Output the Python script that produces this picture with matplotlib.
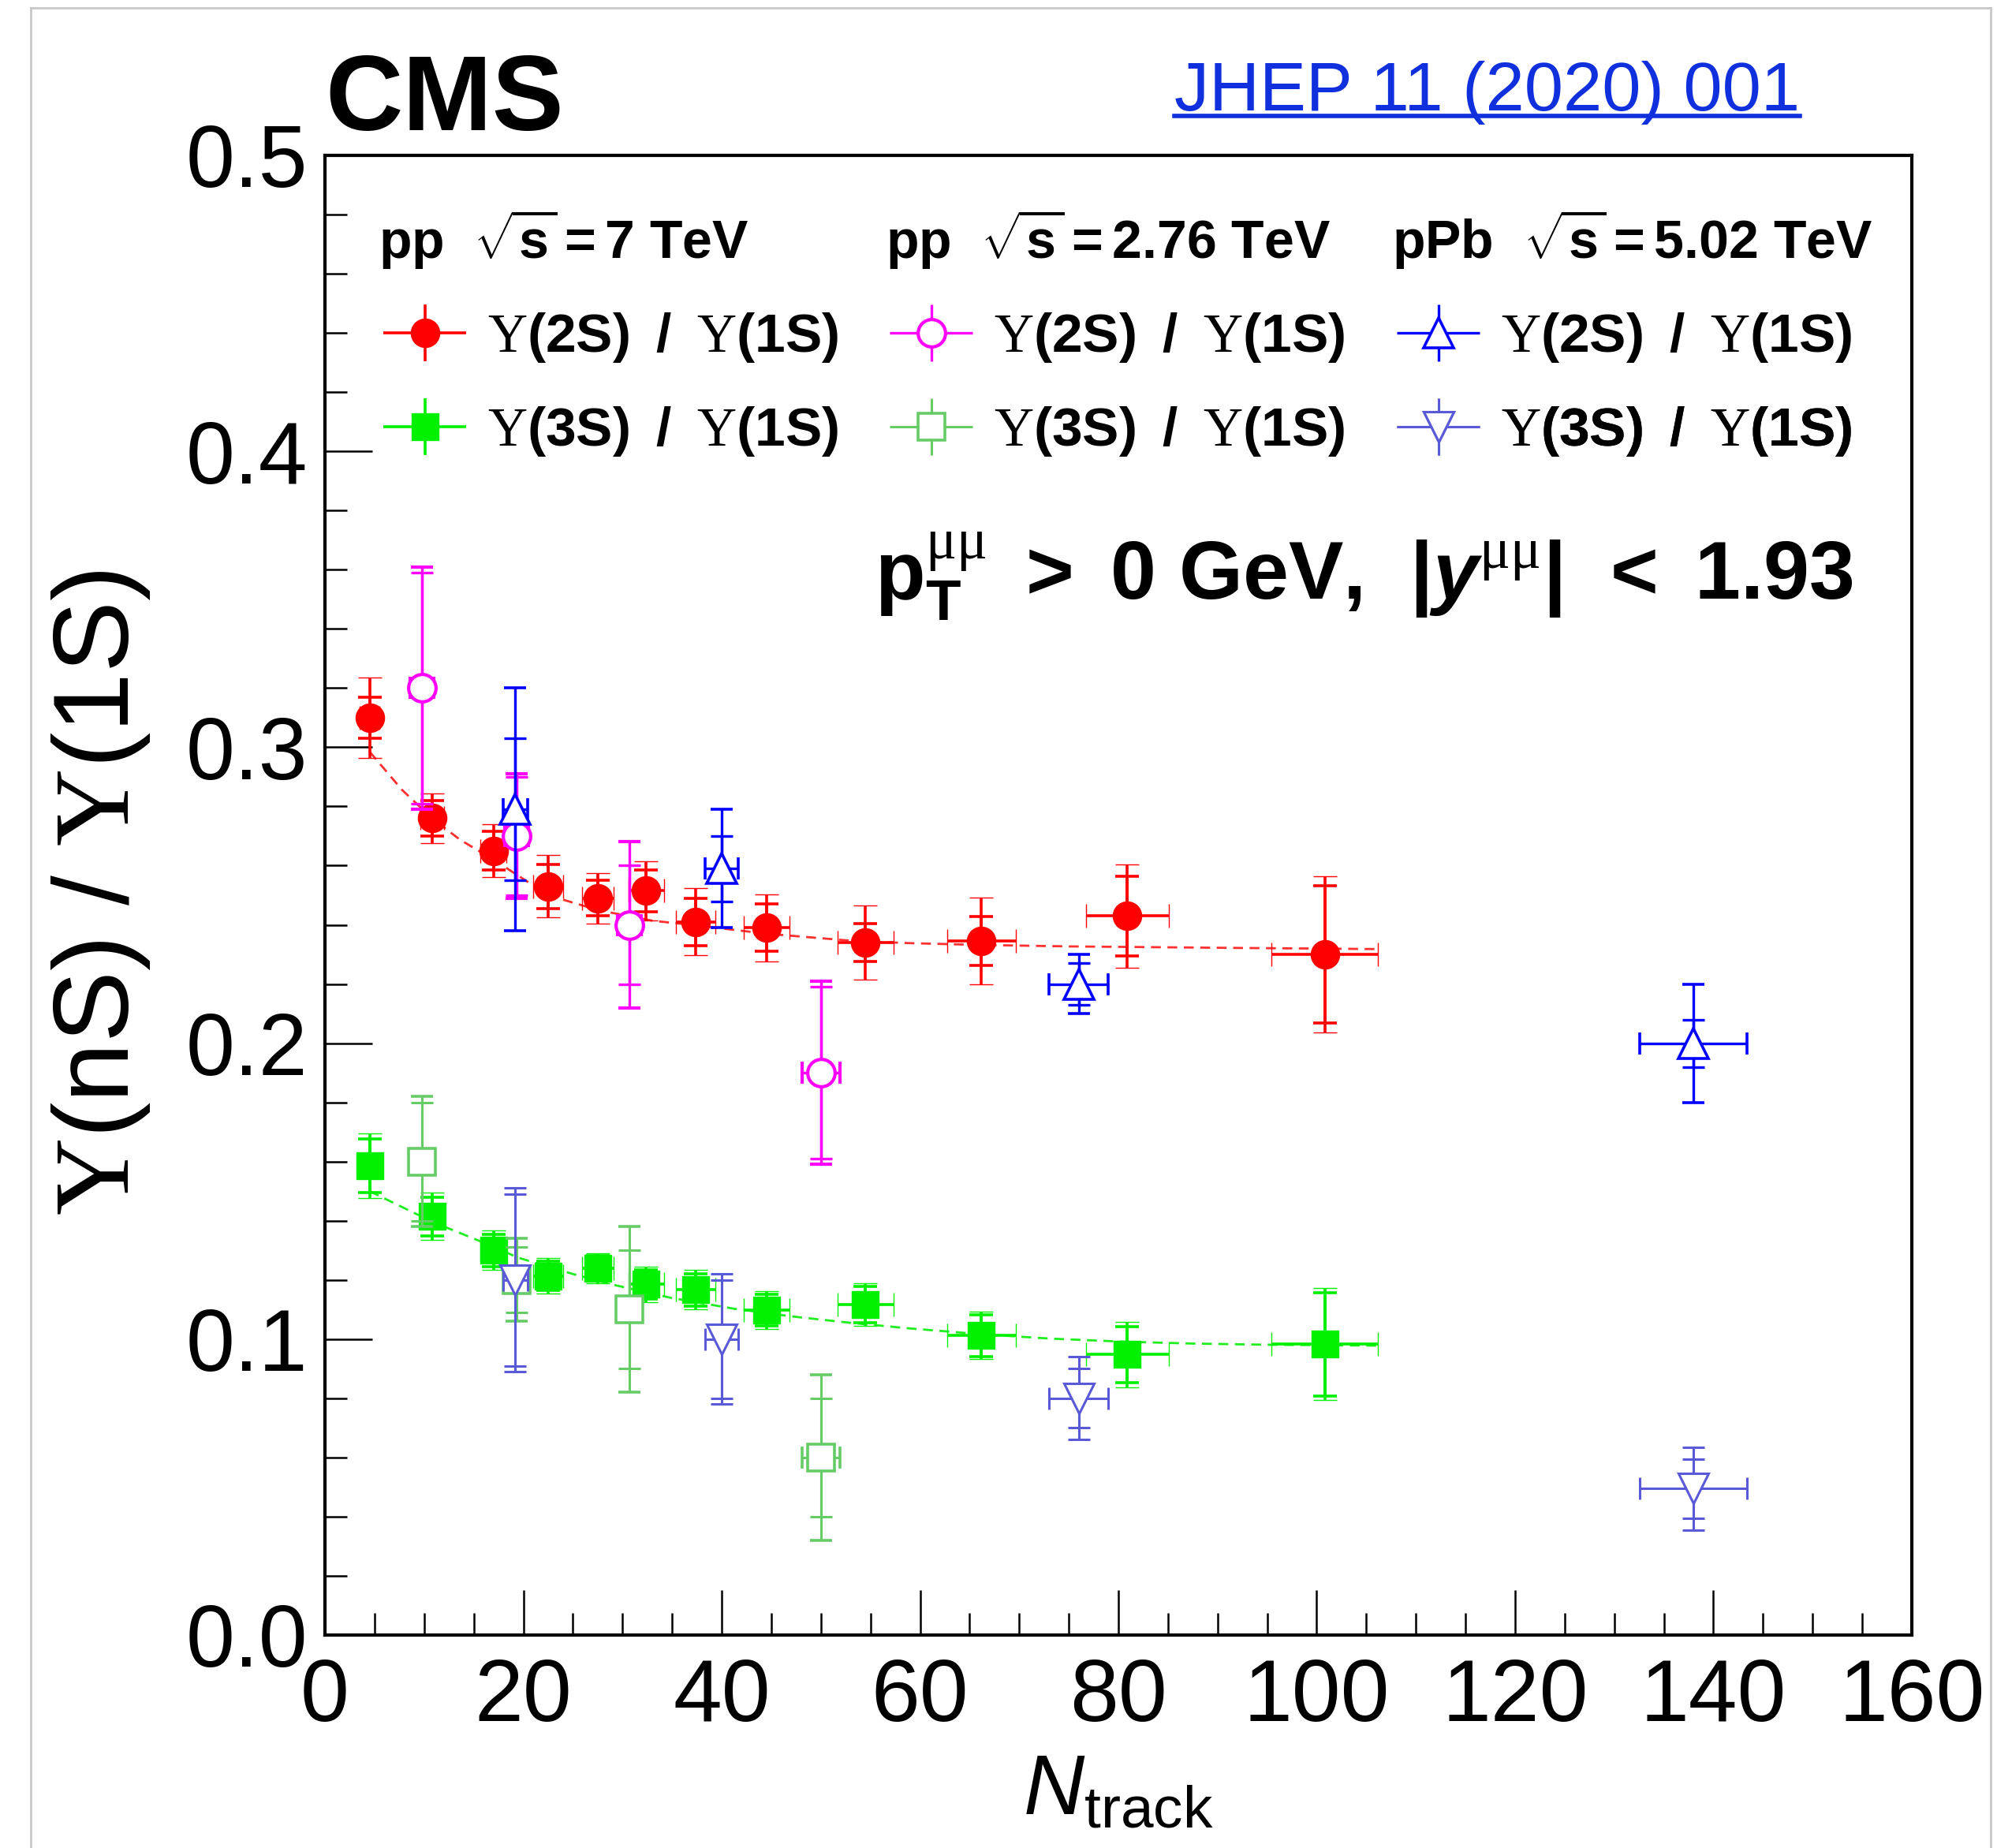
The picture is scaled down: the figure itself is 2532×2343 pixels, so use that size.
import matplotlib
matplotlib.use('Agg')
import matplotlib.pyplot as plt
from matplotlib.lines import Line2D
from matplotlib.legend_handler import HandlerErrorbar
from matplotlib.container import ErrorbarContainer

plt.rcParams['font.family'] = ['Liberation Sans', 'DejaVu Sans']
plt.rcParams['mathtext.fontset'] = 'custom'
plt.rcParams['mathtext.rm'] = 'Liberation Serif'
plt.rcParams['mathtext.it'] = 'Liberation Sans:italic'
plt.rcParams['mathtext.bf'] = 'Liberation Sans:bold'
plt.rcParams['mathtext.sf'] = 'Liberation Sans'
plt.rcParams['mathtext.bfit'] = 'Liberation Sans:italic:bold'

# ---------------- data ----------------
# pp 7 TeV, Y(2S)/Y(1S)
pp7_x = [4.5, 10.8, 17.0, 22.5, 27.5, 32.4, 37.4, 44.5, 54.5, 66.2, 80.9, 100.8]
pp7_xerr = [1.0, 1.2, 1.3, 1.5, 1.6, 1.8, 2.0, 2.3, 2.8, 3.45, 4.2, 5.4]
pp7_2S = [0.310, 0.276, 0.265, 0.253, 0.249, 0.2515, 0.241, 0.239, 0.234, 0.2345, 0.243, 0.230]
pp7_2S_tot = [0.0135, 0.0085, 0.009, 0.0105, 0.0085, 0.010, 0.0113, 0.0113, 0.0126, 0.0147, 0.0174, 0.0263]
pp7_2S_stat = [0.007, 0.006, 0.0065, 0.0075, 0.006, 0.007, 0.008, 0.008, 0.0064, 0.0083, 0.0135, 0.0233]
# pp 7 TeV, Y(3S)/Y(1S)
pp7_3S = [0.1586, 0.1414, 0.130, 0.1214, 0.124, 0.1185, 0.1167, 0.1098, 0.1117, 0.1012, 0.0948, 0.0983]
pp7_3S_tot = [0.011, 0.008, 0.0067, 0.006, 0.005, 0.006, 0.0066, 0.0064, 0.0072, 0.008, 0.011, 0.019]
pp7_3S_stat = [0.009, 0.0065, 0.0055, 0.005, 0.0042, 0.005, 0.0055, 0.0054, 0.0062, 0.007, 0.0095, 0.0175]

# pp 2.76 TeV
pp276_x = [9.8, 19.3, 30.7, 50.0]
pp276_xerr = [1.2, 1.2, 1.2, 1.9]
pp276_2S = [0.320, 0.270, 0.240, 0.190]
pp276_2S_tot = [0.041, 0.021, 0.028, 0.031]
pp276_2S_stat = [0.039, 0.020, 0.020, 0.029]
pp276_3S = [0.160, 0.120, 0.110, 0.060]
pp276_3S_tot = [0.022, 0.014, 0.028, 0.028]
pp276_3S_stat = [0.020, 0.011, 0.020, 0.020]

# pPb 5.02 TeV
pPb_x = [19.2, 40.0, 76.0, 138.0]
pPb_xerr = [1.2, 1.7, 3.0, 5.4]
pPb_2S = [0.279, 0.259, 0.220, 0.200]
pPb_2S_tot = [0.041, 0.020, 0.010, 0.020]
pPb_2S_stat = [0.024, 0.011, 0.007, 0.008]
pPb_3S = [0.120, 0.100, 0.080, 0.0495]
pPb_3S_tot = [0.031, 0.022, 0.014, 0.014]
pPb_3S_stat = [0.029, 0.020, 0.010, 0.010]

# dashed fit curves
fit2S_x = [4.5, 7.8, 10.8, 13.6, 17.0, 20.0, 22.5, 27.5, 33.0, 37.4, 44.5, 53.5, 59.0, 66.0, 75.0, 91.5, 106.0]
fit2S_y = [0.2985, 0.2855, 0.2760, 0.2688, 0.2620, 0.2555, 0.2500, 0.2450, 0.2414, 0.2398, 0.2370, 0.2345,
           0.2338, 0.2332, 0.2327, 0.2322, 0.2318]
fit3S_x = [4.5, 9.2, 12.4, 16.3, 19.5, 25.0, 28.9, 34.8, 41.2, 47.0, 53.0, 59.0, 66.0, 73.0, 80.0, 87.4, 95.0, 106.0]
fit3S_y = [0.1500, 0.1423, 0.1375, 0.1322, 0.1275, 0.1220, 0.1185, 0.1140, 0.1103, 0.1077, 0.1055, 0.1036,
           0.1017, 0.1002, 0.0992, 0.0985, 0.0981, 0.0978]

x_ticks = [0, 20, 40, 60, 80, 100, 120, 140, 160]
y_ticks = [0.0, 0.1, 0.2, 0.3, 0.4, 0.5]
y_ticklabels = ['0.0', '0.1', '0.2', '0.3', '0.4', '0.5']

headers = [r'$\mathbf{pp}\ \ \sqrt{\mathbf{s}}\mathbf{=7\ TeV}$',
           r'$\mathbf{pp}\ \ \sqrt{\mathbf{s}}\mathbf{=2.76\ TeV}$',
           r'$\mathbf{pPb}\ \ \sqrt{\mathbf{s}}\mathbf{=5.02\ TeV}$']
lab2S = r'$\Upsilon\mathbf{(2S)\ \:/\ \:}\Upsilon\mathbf{(1S)}$'
lab3S = r'$\Upsilon\mathbf{(3S)\ \:/\ \:}\Upsilon\mathbf{(1S)}$'

# ---------------- figure ----------------
W, H, DPI = 2532, 2343, 100
fig = plt.figure(figsize=(W / DPI, H / DPI), dpi=DPI)


def fx(px):
    return px / W


def fy(py):
    return 1 - py / H


ax = fig.add_axes([fx(412), fy(2073), fx(2424) - fx(412), fy(197) - fy(2073)])
ax.set_xlim(0, 160)
ax.set_ylim(0, 0.5)

# fits
ax.plot(fit2S_x, fit2S_y, color='#ff3030', lw=2.0, dashes=(4.5, 3), zorder=1)
ax.plot(fit3S_x, fit3S_y, color='#20ee20', lw=2.0, dashes=(4.5, 3), zorder=1)


def series(x, y, ytot, ystat, xerr, color, marker, ms, mfc, mew, elw, cs, z):
    c = ax.errorbar(x, y, yerr=ytot, xerr=xerr, fmt=marker, color=color, ms=ms, mfc=mfc, mec=color,
                    mew=mew, ecolor=color, elinewidth=elw, capsize=cs, capthick=elw, zorder=z)
    ax.errorbar(x, y, yerr=ystat, fmt='none', ecolor=color, elinewidth=elw, capsize=cs,
                capthick=elw, zorder=z)
    return c


RED, MAG, BLUE = '#ff0000', '#ff00ff', '#0000ff'
GREEN, LGREEN, PURP = '#00f000', '#66cc66', '#5a5ad8'

h1 = series(pp7_x, pp7_2S, pp7_2S_tot, pp7_2S_stat, pp7_xerr, RED, 'o', 26, RED, 1, 2.6, 11, 3)
h2 = series(pp7_x, pp7_3S, pp7_3S_tot, pp7_3S_stat, pp7_xerr, GREEN, 's', 25, GREEN, 1, 2.6, 11, 3.2)
h3 = series(pp276_x, pp276_2S, pp276_2S_tot, pp276_2S_stat, pp276_xerr, MAG, 'o', 25, 'white', 3, 2.4, 10, 3.4)
h4 = series(pp276_x, pp276_3S, pp276_3S_tot, pp276_3S_stat, pp276_xerr, LGREEN, 's', 25, 'white', 2.6, 2.2, 10, 3.6)
h5 = series(pPb_x, pPb_2S, pPb_2S_tot, pPb_2S_stat, pPb_xerr, BLUE, '^', 27, 'white', 2.6, 2.4, 10, 3.8)
h6 = series(pPb_x, pPb_3S, pPb_3S_tot, pPb_3S_stat, pPb_xerr, PURP, 'v', 27, 'white', 2.2, 2.2, 10, 4.0)

# axes styling
for s in ax.spines.values():
    s.set_linewidth(3.0)
ax.set_xticks(x_ticks)
ax.set_xticks(range(0, 161, 5), minor=True)
ax.set_yticks(y_ticks)
ax.set_yticklabels(y_ticklabels)
ax.set_yticks([i * 0.02 for i in range(26)], minor=True)
ax.tick_params(which='both', direction='in', top=False, right=False, labelsize=80, width=1.8)
ax.tick_params(axis='x', which='major', length=41, pad=20)
ax.tick_params(axis='x', which='minor', length=20)
ax.tick_params(axis='y', which='major', length=43, pad=16)
ax.tick_params(axis='y', which='minor', length=20)

# axis titles
fig.text(fx(1418), fy(2300), r'$\mathit{N}_{\mathsf{track}}$', fontsize=77, ha='center', va='baseline')
fig.text(fx(163), fy(1132), r'$\Upsilon\mathsf{(nS)\ /\ }\Upsilon\mathsf{(1S)}$', fontsize=98,
         rotation=90, rotation_mode='anchor', ha='center', va='baseline')

# CMS and reference
fig.text(fx(412), fy(165), 'CMS', fontsize=98, fontweight='bold', ha='left', va='baseline')
jhep = fig.text(fx(1489), fy(140), 'JHEP 11 (2020) 001', fontsize=63.6, color='#1030dd',
                ha='left', va='baseline')

# selection text
fig.text(fx(2350), fy(760),
         r'$\mathbf{p}_{\mathbf{T}}^{\mathrm{\mu\mu}}\ \mathbf{>\ 0\ GeV,\;\,|}\mathbfit{y}^{\mathrm{\mu\mu}}'
         r'\mathbf{|\;\,<\ 1.93}$',
         fontsize=75, ha='right', va='baseline')

# legend headers
for hx, txt in zip([480, 1123, 1765], headers):
    fig.text(fx(hx), fy(328), txt, fontsize=49, ha='left', va='baseline')


class NoCapErrorbar(HandlerErrorbar):
    def create_artists(self, *args, **kwargs):
        arts = super().create_artists(*args, **kwargs)
        for a in arts:
            if isinstance(a, Line2D) and a.get_marker() in ('|', '_'):
                a.set_visible(False)
        return arts


hmap = {ErrorbarContainer: NoCapErrorbar(xerr_size=0.75, yerr_size=0.52)}
col_left = [483, 1125, 1768]
row_center = [428, 547]
handles = [[h1, h2], [h3, h4], [h5, h6]]
for ci in range(3):
    for ri, lab in enumerate([lab2S, lab3S]):
        leg = ax.legend([handles[ci][ri]], [lab], loc='center left',
                        bbox_to_anchor=(fx(col_left[ci]), fy(row_center[ri])),
                        bbox_transform=fig.transFigure, frameon=False, fontsize=50,
                        handlelength=1.6, handletextpad=0.35, borderpad=0, borderaxespad=0,
                        handler_map=hmap)
        ax.add_artist(leg)

# outer light frame (screenshot border)
for xs, ys in [([39, 39], [10, 2343]), ([39, 2524], [10, 10]), ([2524, 2524], [10, 2343])]:
    fig.add_artist(Line2D([fx(v) for v in xs], [fy(v) for v in ys], color='#c8c8c8', lw=2.0,
                          transform=fig.transFigure))

# underline for JHEP link
fig.canvas.draw()
bb = jhep.get_window_extent().transformed(fig.transFigure.inverted())
fig.add_artist(Line2D([bb.x0, bb.x1], [fy(147), fy(147)], color='#1030dd', lw=4.0,
                      transform=fig.transFigure))

fig.savefig('out.png', dpi=DPI)
